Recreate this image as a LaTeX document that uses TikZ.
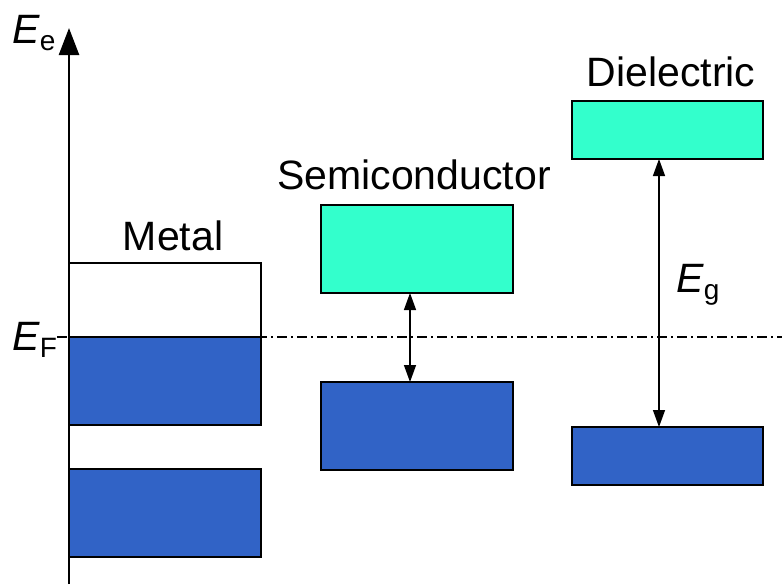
\documentclass[tikz,border=0pt]{standalone}
\usepackage{fontspec}
\setmainfont{Liberation Sans}
\usetikzlibrary{arrows.meta}
\definecolor{bandblue}{RGB}{49,99,198}
\definecolor{bandteal}{RGB}{51,255,204}
\tikzset{
  band/.style={draw=black, line width=2pt, inner sep=0pt, outer sep=0pt, anchor=north west},
  lbl/.style={font=\fontsize{41}{45}\selectfont, inner sep=0pt},
  gaparrow/.style={line width=1.4pt, {Triangle[length=17pt,width=12pt]}-{Triangle[length=17pt,width=12pt]}},
}
\newcommand{\sym}[1]{\textit{E}\raisebox{-7pt}{\fontsize{28}{28}\selectfont #1}}
\begin{document}
\begin{tikzpicture}[x=1pt,y=-1pt]
\useasboundingbox (0,0) rectangle (782,584);
% bands
\node[band, fill=white, minimum width=192pt, minimum height=74pt] (mtop) at (69,263) {};
\node[band, fill=bandblue, minimum width=192pt, minimum height=88pt] (mv) at (69,337) {};
\node[band, fill=bandblue, minimum width=192pt, minimum height=88pt] (mlow) at (69,469) {};
\node[band, fill=bandteal, minimum width=192pt, minimum height=88pt] (sc) at (321,205) {};
\node[band, fill=bandblue, minimum width=192pt, minimum height=88pt] (sv) at (321,382) {};
\node[band, fill=bandteal, minimum width=191pt, minimum height=58pt] (dc) at (572,101) {};
\node[band, fill=bandblue, minimum width=191pt, minimum height=58pt] (dv) at (572,427) {};
% Fermi level
\coordinate (fl) at (57,337);
\coordinate (fr) at (782,337);
\draw[line width=1.6pt, dash pattern=on 10pt off 4pt on 2pt off 4pt] (fl) -- (fr);
% axis
\coordinate (ab) at (69,584);
\coordinate (at) at (69,28);
\draw[line width=2.5pt, -{Triangle[length=27pt,width=20pt]}] (ab) -- (at);
% gap arrows
\draw[gaparrow] (sc.south -| 410,0) -- (sv.north -| 410,0);
\draw[gaparrow] (dc.south -| 659,0) -- (dv.north -| 659,0);
% labels
\node[lbl] (metal) at (173,236) {Metal};
\node[lbl] (semi) at (414,175) {Semiconductor};
\node[lbl] (diel) at (671,72) {Dielectric};
\node[lbl, anchor=base west] (ee) at (12,43) {\sym{e}};
\node[lbl, anchor=base west] (ef) at (12,350) {\sym{F}};
\node[lbl, anchor=base west] (eg) at (676,292) {\sym{g}};
\end{tikzpicture}
\end{document}
